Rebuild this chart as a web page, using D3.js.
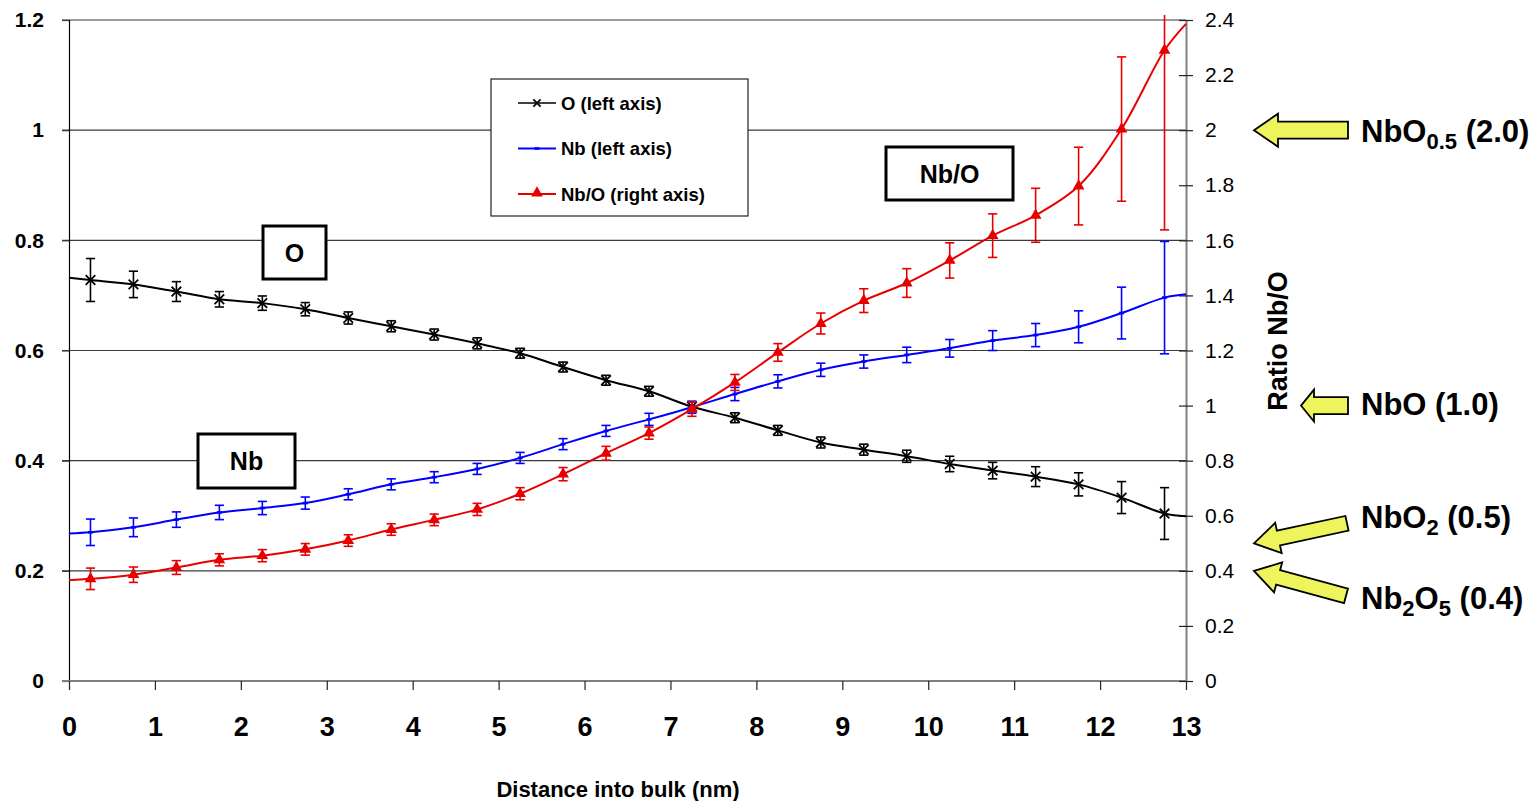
<!DOCTYPE html>
<html>
<head>
<meta charset="utf-8">
<script src="https://cdn.jsdelivr.net/npm/d3@7"></script>
<style>
  html, body { margin: 0; padding: 0; background: #fff; }
  svg { display: block; font-family: "Liberation Sans", Arial, Helvetica, sans-serif; }
</style>
</head>
<body>
<svg id="chart" width="1536" height="801"></svg>
<script>
// Depth-profile data: sample positions (nm) and measured fractions
const depth = [0.25, 0.75, 1.25, 1.75, 2.25, 2.75, 3.25, 3.75, 4.25, 4.75, 5.25, 5.75, 6.25,
               6.75, 7.25, 7.75, 8.25, 8.75, 9.25, 9.75, 10.25, 10.75, 11.25, 11.75, 12.25, 12.75];

const oxygen    = [0.728, 0.720, 0.707, 0.693, 0.686, 0.675, 0.659, 0.644, 0.629, 0.613, 0.595, 0.570, 0.546,
                   0.526, 0.498, 0.478, 0.455, 0.433, 0.420, 0.408, 0.394, 0.382, 0.371, 0.357, 0.333, 0.304];
const oxygenErr = [0.039, 0.024, 0.018, 0.014, 0.013, 0.012, 0.011, 0.010, 0.010, 0.010, 0.009, 0.009, 0.009,
                   0.009, 0.009, 0.009, 0.009, 0.010, 0.010, 0.011, 0.014, 0.015, 0.018, 0.021, 0.029, 0.047];

const niobium    = [0.270, 0.279, 0.293, 0.306, 0.314, 0.323, 0.339, 0.357, 0.370, 0.385, 0.405, 0.430, 0.454,
                    0.475, 0.497, 0.521, 0.544, 0.565, 0.580, 0.592, 0.604, 0.618, 0.628, 0.643, 0.668, 0.696];
const niobiumErr = [0.024, 0.017, 0.014, 0.013, 0.012, 0.011, 0.010, 0.010, 0.010, 0.010, 0.010, 0.010, 0.010,
                    0.011, 0.011, 0.012, 0.012, 0.012, 0.012, 0.014, 0.016, 0.018, 0.021, 0.029, 0.047, 0.102];

const ratio    = [0.371, 0.386, 0.412, 0.440, 0.455, 0.478, 0.510, 0.550, 0.585, 0.623, 0.680, 0.751, 0.827,
                  0.900, 0.987, 1.084, 1.193, 1.298, 1.381, 1.445, 1.527, 1.617, 1.691, 1.797, 2.004, 2.290];
const ratioErr = [0.039, 0.028, 0.025, 0.022, 0.022, 0.021, 0.021, 0.021, 0.021, 0.022, 0.022, 0.024, 0.025,
                  0.022, 0.026, 0.029, 0.032, 0.038, 0.043, 0.052, 0.064, 0.079, 0.098, 0.141, 0.262, 0.652];

// Smoothed curves continue to the edges of the depth range
const edgeDepth    = [0, 13];
const oxygenEdge   = [0.732, 0.299];
const niobiumEdge  = [0.268, 0.702];
const ratioEdge    = [0.366, 2.386];

// Axis ticks
const xTicks      = d3.range(0, 14);
const leftTicks   = [0, 0.2, 0.4, 0.6, 0.8, 1, 1.2];
const rightTicks  = [0, 0.2, 0.4, 0.6, 0.8, 1, 1.2, 1.4, 1.6, 1.8, 2, 2.2, 2.4];

// Reference stoichiometries on the ratio axis
const phases = [
  { base: "NbO", sub: "0.5", rest: "", tail: " (2.0)", value: 2.0 },
  { base: "NbO", sub: "",    rest: "", tail: " (1.0)", value: 1.0 },
  { base: "NbO", sub: "2",   rest: "", tail: " (0.5)", value: 0.5 },
  { base: "Nb",  sub: "2",   rest: "O", sub2: "5", tail: " (0.4)", value: 0.4 }
];

const legendItems = ["O (left axis)", "Nb (left axis)", "Nb/O (right axis)"];

// ---------------------------------------------------------------------------
const svg = d3.select("#chart");
const plot = { left: 69, right: 1186, top: 20, bottom: 681 };

const x  = d3.scaleLinear().domain([0, 13]).range([plot.left, plot.right]);
const yL = d3.scaleLinear().domain([0, 1.2]).range([plot.bottom, plot.top]);
const yR = d3.scaleLinear().domain([0, 2.4]).range([plot.bottom, plot.top]);

const RED = "#e80000", BLUE = "#0000ff", BLACK = "#000";

// Horizontal grid lines at the left-axis ticks
svg.append("g").selectAll("line").data(leftTicks.filter(d => d > 0)).join("line")
  .attr("x1", plot.left - 7).attr("x2", plot.right)
  .attr("y1", d => yL(d)).attr("y2", d => yL(d))
  .attr("stroke", "#3a3a3a").attr("stroke-width", 1.2);

// Left axis
const leftAxis = svg.append("g")
  .attr("transform", `translate(${plot.left},0)`)
  .call(d3.axisLeft(yL).tickValues(leftTicks).tickFormat(d3.format("~g")).tickSize(7).tickPadding(18));
leftAxis.select(".domain").attr("stroke", "#000").attr("stroke-width", 1.2);
leftAxis.selectAll(".tick line").attr("stroke", "#3a3a3a").attr("stroke-width", 1.2);
leftAxis.selectAll(".tick text")
  .attr("font-family", "Liberation Sans, Arial, sans-serif")
  .attr("font-size", 21).attr("font-weight", "bold").attr("fill", "#000");

// Bottom axis
const bottomAxis = svg.append("g")
  .attr("transform", `translate(0,${plot.bottom})`)
  .call(d3.axisBottom(x).tickValues(xTicks).tickFormat(d3.format("d")).tickSize(9).tickPadding(41).tickSizeOuter(0));
bottomAxis.select(".domain").attr("stroke", "#808080").attr("stroke-width", 2)
  .attr("d", `M${plot.left - 7},0H${plot.right}`);
bottomAxis.selectAll(".tick line").attr("stroke", "#222").attr("stroke-width", 1.2);
bottomAxis.selectAll(".tick text")
  .attr("font-family", "Liberation Sans, Arial, sans-serif")
  .attr("font-size", 27).attr("font-weight", "bold").attr("fill", "#000")
  .attr("dy", "0.2em");

// Right axis with crossing ticks
const rightAxis = svg.append("g")
  .attr("transform", `translate(${plot.right},0)`)
  .call(d3.axisRight(yR).tickValues(rightTicks).tickFormat(d3.format("~g")).tickSize(7).tickPadding(12).tickSizeOuter(0));
rightAxis.select(".domain").attr("stroke", "#808080").attr("stroke-width", 2);
rightAxis.selectAll(".tick line").attr("x1", -7).attr("stroke", "#222").attr("stroke-width", 1.2);
rightAxis.selectAll(".tick text")
  .attr("font-family", "Liberation Sans, Arial, sans-serif")
  .attr("font-size", 21).attr("fill", "#000");

// Axis titles
svg.append("text")
  .attr("x", 618).attr("y", 797)
  .attr("text-anchor", "middle")
  .attr("font-size", 22).attr("font-weight", "bold")
  .text("Distance into bulk (nm)");

svg.append("text")
  .attr("transform", `translate(1287,341) rotate(-90)`)
  .attr("text-anchor", "middle")
  .attr("font-size", 27).attr("font-weight", "bold")
  .text("Ratio Nb/O");

// Error bars may run a little above the plot frame, then are cut
svg.append("clipPath").attr("id", "errClip")
  .append("rect").attr("x", 0).attr("y", plot.top - 5)
  .attr("width", 1536).attr("height", plot.bottom - plot.top + 5);

const capHalf = 4.6;

function drawSeries(values, errs, edges, yScale, color, lineWidth) {
  const pts = depth.map((d, i) => [d, values[i]]);
  const linePts = [[edgeDepth[0], edges[0]], ...pts, [edgeDepth[1], edges[1]]];
  const g = svg.append("g");

  // smoothed connecting line
  g.append("path")
    .datum(linePts)
    .attr("fill", "none")
    .attr("stroke", color)
    .attr("stroke-width", lineWidth)
    .attr("d", d3.line().x(d => x(d[0])).y(d => yScale(d[1])).curve(d3.curveCatmullRom.alpha(0.5)));

  // error bars
  const eb = g.append("g").attr("clip-path", "url(#errClip)")
    .selectAll("g").data(depth.map((d, i) => ({ d, v: values[i], e: errs[i] }))).join("g");
  eb.append("line")
    .attr("x1", p => x(p.d)).attr("x2", p => x(p.d))
    .attr("y1", p => yScale(p.v + p.e)).attr("y2", p => yScale(p.v - p.e))
    .attr("stroke", color).attr("stroke-width", 1.6);
  eb.append("line")
    .attr("x1", p => x(p.d) - capHalf).attr("x2", p => x(p.d) + capHalf)
    .attr("y1", p => yScale(p.v + p.e)).attr("y2", p => yScale(p.v + p.e))
    .attr("stroke", color).attr("stroke-width", 1.6);
  eb.append("line")
    .attr("x1", p => x(p.d) - capHalf).attr("x2", p => x(p.d) + capHalf)
    .attr("y1", p => yScale(p.v - p.e)).attr("y2", p => yScale(p.v - p.e))
    .attr("stroke", color).attr("stroke-width", 1.6);
  return { g, pts };
}

// Marker shapes
function crossMarker(sel, cx, cy, r, color) {
  sel.append("path")
    .attr("d", `M${cx - r},${cy - r}L${cx + r},${cy + r}M${cx - r},${cy + r}L${cx + r},${cy - r}`)
    .attr("stroke", color).attr("stroke-width", 1.8).attr("fill", "none");
}
function dashMarker(sel, cx, cy, color) {
  sel.append("rect").attr("x", cx - 2.5).attr("y", cy - 1.3).attr("width", 5).attr("height", 2.6).attr("fill", color);
}
const tri = d3.symbol().type(d3.symbolTriangle).size(60);
function triMarker(sel, cx, cy, color) {
  sel.append("path").attr("d", tri()).attr("transform", `translate(${cx},${cy})`).attr("fill", color);
}

const sO  = drawSeries(oxygen,  oxygenErr,  oxygenEdge,  yL, BLACK, 2);
sO.pts.forEach(p => crossMarker(sO.g, x(p[0]), yL(p[1]), 4.8, BLACK));

const sNb = drawSeries(niobium, niobiumErr, niobiumEdge, yL, BLUE, 2);
sNb.pts.forEach(p => dashMarker(sNb.g, x(p[0]), yL(p[1]), BLUE));

const sR  = drawSeries(ratio,   ratioErr,   ratioEdge,   yR, RED, 2);
sR.pts.forEach(p => triMarker(sR.g, x(p[0]), yR(p[1]), RED));

// Legend
const lg = svg.append("g");
lg.append("rect").attr("x", 491).attr("y", 79).attr("width", 257).attr("height", 137)
  .attr("fill", "#fff").attr("stroke", "#222").attr("stroke-width", 1.2);
const legendColors = [BLACK, BLUE, RED];
legendItems.forEach((label, i) => {
  const cy = 103 + i * 45.5;
  lg.append("line").attr("x1", 518).attr("x2", 556).attr("y1", cy).attr("y2", cy)
    .attr("stroke", legendColors[i]).attr("stroke-width", i === 0 ? 1.6 : 1.8);
  if (i === 0) crossMarker(lg, 537, cy, 3.6, BLACK);
  if (i === 1) dashMarker(lg, 537, cy, BLUE);
  if (i === 2) triMarker(lg, 537, cy - 1, RED);
  lg.append("text").attr("x", 561).attr("y", cy).attr("dy", "0.36em")
    .attr("font-size", 18.5).attr("font-weight", "bold").text(label);
});

// Boxed series labels
function boxLabel(x0, y0, w, h, label) {
  svg.append("rect").attr("x", x0).attr("y", y0).attr("width", w).attr("height", h)
    .attr("fill", "#fff").attr("stroke", "#000").attr("stroke-width", 3);
  svg.append("text").attr("x", x0 + w / 2).attr("y", y0 + h / 2).attr("dy", "0.36em")
    .attr("text-anchor", "middle").attr("font-size", 25).attr("font-weight", "bold").text(label);
}
boxLabel(263, 226, 63, 53, "O");
boxLabel(198, 434, 97, 54, "Nb");
boxLabel(886, 147, 127, 53, "Nb/O");

// Block arrows pointing at reference ratios
function blockArrow(tipX, tipY, tailX, tailY, shaftHalf, headHalf, headLen) {
  const dx = tailX - tipX, dy = tailY - tipY;
  const len = Math.hypot(dx, dy);
  const ang = Math.atan2(dy, dx) * 180 / Math.PI;
  const pts = [[0, 0], [headLen, -headHalf], [headLen, -shaftHalf], [len, -shaftHalf],
               [len, shaftHalf], [headLen, shaftHalf], [headLen, headHalf]];
  svg.append("polygon")
    .attr("points", pts.map(p => p.join(",")).join(" "))
    .attr("transform", `translate(${tipX},${tipY}) rotate(${ang})`)
    .attr("fill", "#eef55c").attr("stroke", "#000").attr("stroke-width", 1.8)
    .attr("stroke-linejoin", "miter");
}
const arrowTipX = 1254;
blockArrow(arrowTipX, yR(phases[0].value), 1348, yR(phases[0].value), 8.5, 16.5, 24);
blockArrow(1301, yR(phases[1].value), 1348, yR(phases[1].value), 8.5, 16, 13);
blockArrow(arrowTipX, yR(phases[2].value), 1347, yR(phases[2].value) - 20, 7.5, 15.5, 25);
blockArrow(arrowTipX, yR(phases[3].value), 1346, yR(phases[3].value) + 25, 7.5, 15.5, 25);

// Phase labels with subscripts
const phaseBaselines = [142, 415, 528, 609];
phases.forEach((p, i) => {
  const t = svg.append("text").attr("x", 1361).attr("y", phaseBaselines[i])
    .attr("font-size", 31).attr("font-weight", "bold");
  t.append("tspan").text(p.base);
  if (p.sub) t.append("tspan").attr("font-size", 22).attr("dy", 7).text(p.sub);
  if (p.rest) t.append("tspan").attr("dy", -7).text(p.rest);
  if (p.sub2) t.append("tspan").attr("font-size", 22).attr("dy", 7).text(p.sub2);
  t.append("tspan").attr("dy", (p.sub || p.sub2) ? -7 : 0).text(p.tail);
});
</script>
</body>
</html>
